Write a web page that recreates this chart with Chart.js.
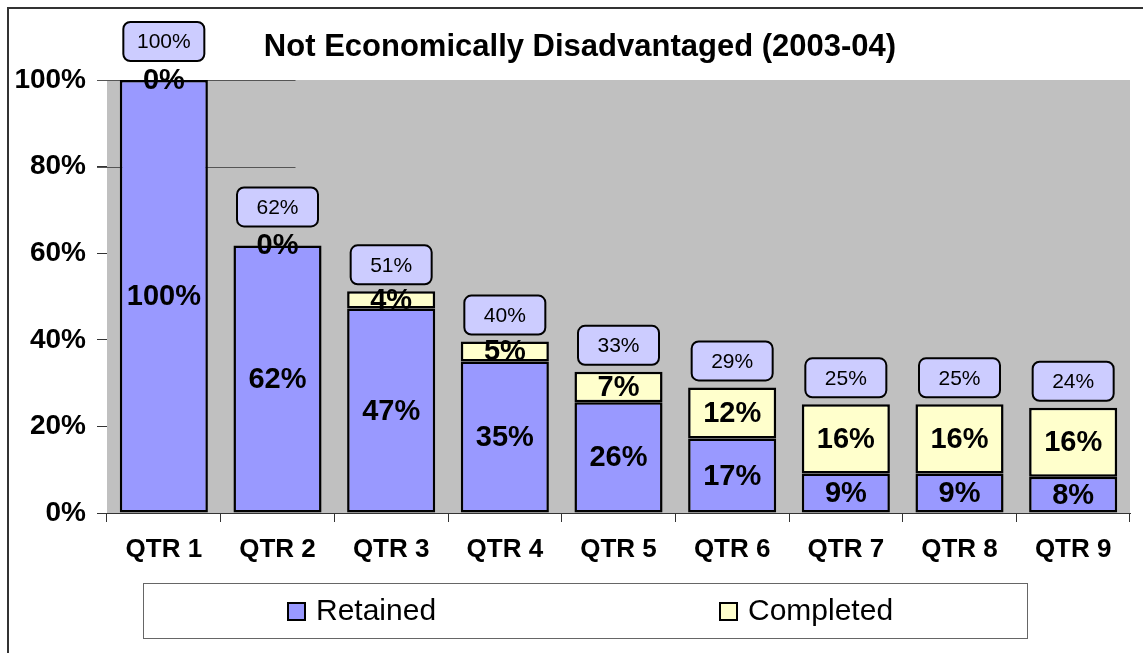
<!DOCTYPE html>
<html>
<head>
<meta charset="utf-8">
<script src="https://cdn.jsdelivr.net/npm/chart.js@4.4.1/dist/chart.umd.min.js"></script>
<style>
    html, body { margin: 0; padding: 0; background: #fff; overflow: hidden; }
    #wrap { position: relative; width: 1143px; height: 653px; }
    #frame { position: absolute; left: 7px; top: 7px; width: 1200px; height: 700px;
             border-left: 2px solid #333; border-top: 2px solid #333; }
    canvas { position: absolute; left: 0; top: 0; }
</style>
</head>
<body>
<div id="wrap">
    <div id="frame"></div>
    <canvas id="grafico" width="1143" height="653"></canvas>
</div>
<script>
const categorias = ['QTR 1', 'QTR 2', 'QTR 3', 'QTR 4', 'QTR 5', 'QTR 6', 'QTR 7', 'QTR 8', 'QTR 9'];
const retained = [100, 61.8, 47.2, 35, 25.6, 17.2, 9.1, 9.1, 8.4];
const completed = [0, 0, 4, 4.6, 7, 11.8, 16, 16, 15.9];
const yTicks = [0, 20, 40, 60, 80, 100];

const FONTE = '"Liberation Sans", Arial, sans-serif';

// fundo cinza da área do gráfico + linhas de grade parciais (como no original)
const fundoPlugin = {
    id: 'fundo',
    beforeDatasetsDraw(chart) {
        const { ctx, chartArea, scales } = chart;
        ctx.save();
        ctx.fillStyle = '#C0C0C0';
        ctx.fillRect(chartArea.left, chartArea.top, chartArea.right - chartArea.left, chartArea.bottom - chartArea.top);
        ctx.strokeStyle = '#555';
        ctx.lineWidth = 1;
        [100, 80].forEach(v => {
            const y = Math.round(scales.y.getPixelForValue(v)) + 0.5;
            ctx.beginPath();
            ctx.moveTo(chartArea.left - 10, y);
            ctx.lineTo(scales.x.getPixelForValue(1) + 18, y);
            ctx.stroke();
        });
        ctx.restore();
    }
};

// rótulos dentro das barras e caixas com o total
const rotulosPlugin = {
    id: 'rotulos',
    afterDatasetsDraw(chart) {
        const { ctx } = chart;
        ctx.save();
        ctx.textAlign = 'center';
        ctx.textBaseline = 'middle';
        ctx.fillStyle = '#000';
        ctx.font = 'bold 29px ' + FONTE;
        chart.data.datasets.forEach((ds, i) => {
            const meta = chart.getDatasetMeta(i);
            meta.data.forEach((bar, j) => {
                ctx.fillText(Math.round(ds.data[j]) + '%', bar.x, (bar.y + bar.base) / 2 + 1);
            });
        });

        const metaTopo = chart.getDatasetMeta(1);
        categorias.forEach((c, j) => {
            const total = retained[j] + completed[j];
            const bar = metaTopo.data[j];
            const w = 81, h = 39;
            const base = bar.y - (completed[j] === 0 ? 19 : 7);
            const x = bar.x - w / 2, y = base - h;
            ctx.beginPath();
            ctx.roundRect(x, y, w, h, 7);
            ctx.fillStyle = '#CCCCFF';
            ctx.fill();
            ctx.lineWidth = 2;
            ctx.strokeStyle = '#000';
            ctx.stroke();
            ctx.fillStyle = '#000';
            ctx.font = '21px ' + FONTE;
            ctx.fillText(Math.round(total) + '%', bar.x, y + h / 2 + 1);
        });
        ctx.restore();
    }
};

// título e legenda desenhados à mão
const extrasPlugin = {
    id: 'extras',
    afterDraw(chart) {
        const { ctx } = chart;
        ctx.save();
        ctx.fillStyle = '#000';
        ctx.textAlign = 'center';
        ctx.textBaseline = 'middle';
        ctx.font = 'bold 31px ' + FONTE;
        ctx.fillText('Not Economically Disadvantaged (2003-04)', 580, 47);

        // legenda
        ctx.fillStyle = '#fff';
        ctx.fillRect(143.5, 583.5, 884, 55);
        ctx.strokeStyle = '#666';
        ctx.lineWidth = 1;
        ctx.strokeRect(143.5, 583.5, 884, 55);
        const posicoes = [288, 720];
        chart.data.datasets.forEach((ds, i) => {
            const x = posicoes[i];
            ctx.fillStyle = ds.backgroundColor;
            ctx.fillRect(x, 603, 17, 17);
            ctx.strokeStyle = '#000';
            ctx.lineWidth = 2;
            ctx.strokeRect(x, 603, 17, 17);
            ctx.fillStyle = '#000';
            ctx.textAlign = 'left';
            ctx.font = '30px ' + FONTE;
            ctx.fillText(ds.label, x + 28, 612);
        });
        ctx.restore();
    }
};

const ctx = document.getElementById('grafico').getContext('2d');
const grafico = new Chart(ctx, {
    type: 'bar',
    data: {
        labels: categorias,
        datasets: [{
            label: 'Retained',
            data: retained,
            backgroundColor: '#9999FF',
            borderColor: '#000',
            borderWidth: 2.5,
            borderSkipped: false,
            categoryPercentage: 1,
            barPercentage: 0.775
        }, {
            label: 'Completed',
            data: completed,
            backgroundColor: '#FFFFCC',
            borderColor: '#000',
            borderWidth: 2.5,
            borderSkipped: false,
            categoryPercentage: 1,
            barPercentage: 0.775
        }]
    },
    options: {
        responsive: false,
        animation: false,
        layout: { padding: { top: 80, right: 13, bottom: 0, left: 0 } },
        plugins: {
            legend: { display: false },
            title: { display: false },
            tooltip: { enabled: false }
        },
        scales: {
            x: {
                stacked: true,
                grid: { drawOnChartArea: false, tickLength: 9, color: '#333', offset: true },
                border: { color: '#333', width: 1 },
                ticks: { color: '#000', font: { family: FONTE, size: 26, weight: 'bold' }, padding: 12, maxRotation: 0 },
                afterFit(scale) { scale.height = 140; }
            },
            y: {
                stacked: true,
                min: 0,
                max: 100,
                afterBuildTicks(scale) { scale.ticks = yTicks.map(v => ({ value: v })); },
                grid: { drawOnChartArea: false, tickLength: 10, color: '#333' },
                border: { color: '#333', width: 1 },
                ticks: {
                    color: '#000',
                    font: { family: FONTE, size: 28, weight: 'bold' },
                    padding: 11,
                    callback: v => v + '%'
                },
                afterFit(scale) { scale.width = 107; }
            }
        }
    },
    plugins: [fundoPlugin, rotulosPlugin, extrasPlugin]
});
</script>
</body>
</html>
